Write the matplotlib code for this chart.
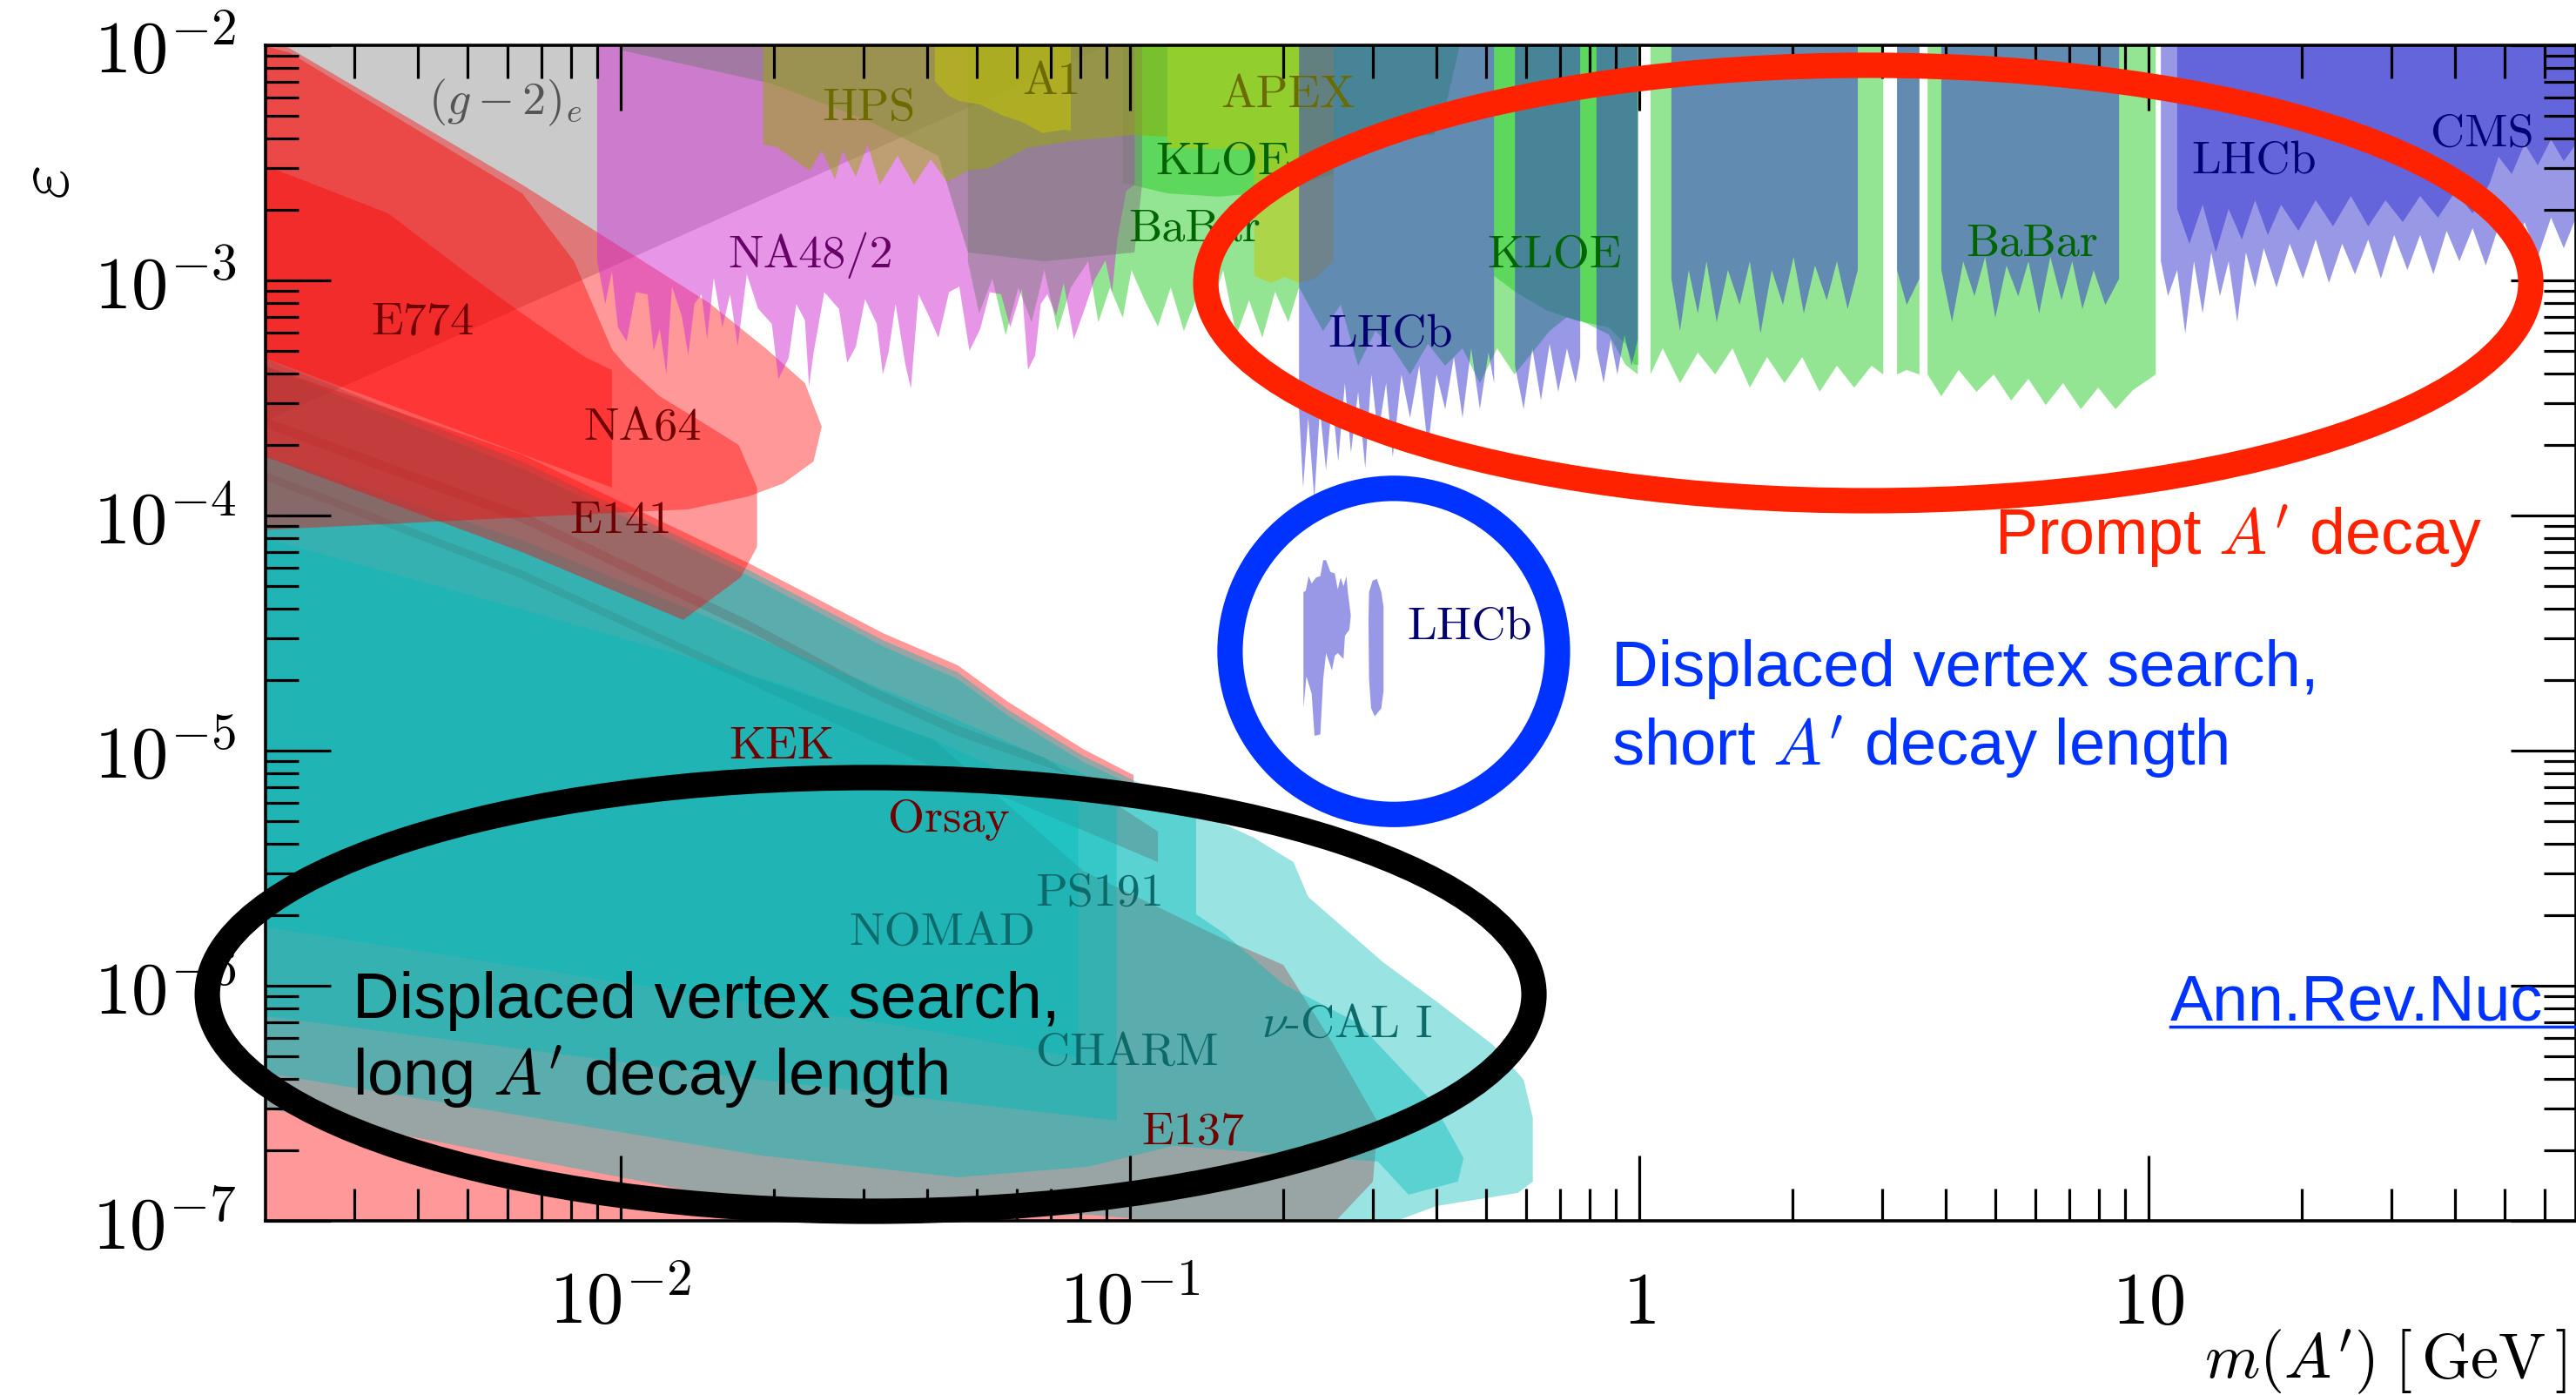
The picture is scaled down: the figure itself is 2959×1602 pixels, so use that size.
import numpy as np
import matplotlib
matplotlib.use("Agg")
import matplotlib.pyplot as plt
from matplotlib.patches import Ellipse
from matplotlib.lines import Line2D
from matplotlib.ticker import FixedLocator, FixedFormatter, NullFormatter, LogLocator

plt.rcParams["mathtext.fontset"] = "cm"

# ---------------- data (log10 of m/GeV, log10 of epsilon) ----------------
LOGM_LIM = (-2.697, 1.839)
LOGEPS_LIM = (-7.0, -2.0)

X_MAJOR = [1e-2, 1e-1, 1.0, 10.0]
X_LABELS = [r"$10^{-2}$", r"$10^{-1}$", r"$1$", r"$10$"]
Y_MAJOR = [1e-7, 1e-6, 1e-5, 1e-4, 1e-3, 1e-2]
Y_LABELS = [r"$10^{-7}$", r"$10^{-6}$", r"$10^{-5}$", r"$10^{-4}$", r"$10^{-3}$", r"$10^{-2}$"]

GM2E = [(-2.75, -1.9), (-0.94, -1.9), (-2.75, -3.65)]
GREY_UPPER = [(-1.997, -1.9), (-1.997, -2.022), (-1.703, -2.163), (-1.509, -2.326), (-1.376, -2.470),
              (-1.318, -2.881), (-1.168, -2.919), (-0.991, -2.881), (-0.976, -2.593), (-0.976, -1.9)]

E137 = [(-2.75, -3.770), (-2.193, -4.233), (-1.747, -4.678), (-1.386, -4.952), (-1.092, -5.511),
        (-0.817, -5.800), (-0.699, -5.911), (-0.602, -6.244), (-0.513, -6.581), (-0.523, -6.833),
        (-0.602, -7.015), (-0.62, -7.1), (-2.75, -7.1)]
KEK = [(-2.75, -3.326), (-2.193, -3.741), (-1.747, -4.204), (-1.485, -4.500), (-1.338, -4.637),
       (-1.239, -4.793), (-1.092, -4.993), (-0.993, -5.104), (-0.993, -5.196), (-1.168, -5.067),
       (-1.338, -4.937), (-1.509, -4.770), (-1.747, -4.493), (-2.193, -4.030), (-2.75, -3.585)]
ORSAY = [(-2.75, -3.541), (-2.193, -3.985), (-1.747, -4.448), (-1.509, -4.726), (-1.338, -4.893),
         (-1.168, -5.030), (-0.945, -5.344), (-0.945, -5.474), (-1.168, -5.270), (-1.509, -4.956),
         (-1.747, -4.715), (-2.193, -4.270), (-2.75, -3.807)]

NUCAL = [(-2.75, -3.289), (-2.193, -3.770), (-1.747, -4.233), (-1.485, -4.530), (-1.338, -4.667),
         (-1.239, -4.826), (-1.092, -5.022), (-0.993, -5.126), (-0.870, -5.259), (-0.757, -5.370),
         (-0.679, -5.474), (-0.650, -5.622), (-0.503, -5.900), (-0.398, -6.067), (-0.287, -6.252),
         (-0.227, -6.400), (-0.209, -6.563), (-0.209, -6.833), (-0.238, -6.881), (-0.398, -6.937),
         (-0.602, -7.1), (-0.928, -7.1), (-0.945, -7.0), (-1.082, -6.974), (-1.479, -6.993),
         (-1.725, -6.930), (-2.75, -6.500)]
CHARM = [(-2.75, -3.319), (-2.193, -3.800), (-1.747, -4.259), (-1.485, -4.556), (-1.338, -4.696),
         (-1.239, -4.852), (-1.092, -5.048), (-0.993, -5.148), (-0.870, -5.289), (-0.870, -5.696),
         (-0.817, -5.774), (-0.699, -5.993), (-0.552, -6.159), (-0.405, -6.496), (-0.345, -6.733),
         (-0.356, -6.833), (-0.453, -6.889), (-0.513, -6.748), (-0.915, -6.681), (-1.082, -6.770),
         (-1.338, -6.815), (-1.725, -6.722), (-2.75, -6.352)]
PS191 = [(-2.75, -3.707), (-2.193, -4.104), (-1.680, -4.567), (-1.386, -4.826), (-1.168, -5.030),
         (-1.026, -5.159), (-1.026, -6.574), (-1.725, -6.400), (-2.75, -6.115)]
NOMAD = [(-2.75, -4.067), (-2.193, -4.400), (-1.680, -4.719), (-1.386, -4.952), (-1.101, -5.233),
         (-1.101, -6.307), (-1.398, -6.189), (-2.75, -5.733)]

E141 = [(-2.75, -1.974), (-2.651, -2.030), (-2.193, -2.630), (-2.091, -2.919), (-2.017, -3.293),
        (-1.988, -3.367), (-1.923, -3.493), (-1.850, -3.589), (-1.768, -3.700), (-1.732, -3.881),
        (-1.732, -4.133), (-1.764, -4.263), (-1.877, -4.444), (-2.193, -4.156), (-2.75, -3.707)]
E774 = [(-2.75, -2.467), (-2.456, -2.715), (-2.292, -2.985), (-2.193, -3.141), (-2.070, -3.326),
        (-2.017, -3.381), (-2.017, -3.881), (-2.75, -3.289)]
NA64 = [(-2.75, -1.92), (-2.651, -2.011), (-2.193, -2.593), (-1.826, -3.096), (-1.715, -3.289),
        (-1.638, -3.437), (-1.605, -3.622), (-1.621, -3.770), (-1.680, -3.863), (-1.749, -3.919),
        (-1.868, -3.974), (-1.938, -3.981), (-2.75, -4.067)]

BABAR = [(-1.318, -1.9), (-1.318, -2.919), (-1.296, -3.141), (-1.270, -2.993), (-1.244, -3.233),
         (-1.219, -3.030), (-1.193, -3.178), (-1.168, -2.956), (-1.142, -3.215), (-1.116, -3.030),
         (-1.082, -2.919), (-1.062, -3.178), (-1.039, -3.030), (-1.014, -3.159), (-0.997, -2.956),
         (-0.971, -3.085), (-0.945, -3.196), (-0.920, -3.030), (-0.894, -3.215), (-0.868, -3.067),
         (-0.843, -3.141), (-0.817, -2.956), (-0.791, -3.233), (-0.766, -3.085), (-0.740, -3.244),
         (-0.715, -3.048), (-0.689, -3.178), (-0.668, -3.030), (-0.621, -3.215), (-0.586, -3.104),
         (-0.552, -3.363), (-0.518, -3.215), (-0.484, -3.289), (-0.450, -3.400), (-0.415, -3.270),
         (-0.381, -3.363), (-0.347, -3.289), (-0.313, -3.437), (-0.279, -3.289), (-0.245, -3.400),
         (-0.210, -3.307), (-0.176, -3.215), (-0.142, -3.156), (-0.108, -3.178), (-0.060, -3.230),
         (-0.027, -3.359), (-0.003, -3.400), (-0.003, -1.9), (0.022, -1.9), (0.022, -3.400),
         (0.046, -3.289), (0.080, -3.437), (0.115, -3.307), (0.149, -3.400), (0.183, -3.289),
         (0.217, -3.456), (0.251, -3.326), (0.285, -3.437), (0.320, -3.326), (0.354, -3.474),
         (0.388, -3.363), (0.422, -3.456), (0.456, -3.363), (0.479, -3.400), (0.479, -1.9),
         (0.506, -1.9), (0.506, -3.400), (0.525, -3.381), (0.550, -3.400), (0.550, -1.9),
         (0.566, -1.9), (0.566, -3.400), (0.593, -3.493), (0.627, -3.381), (0.662, -3.474),
         (0.696, -3.400), (0.730, -3.511), (0.764, -3.419), (0.798, -3.530), (0.832, -3.437),
         (0.867, -3.548), (0.901, -3.456), (0.935, -3.548), (0.969, -3.467), (1.014, -3.400),
         (1.014, -1.9)]
KLOE_PHI = [(-1.014, -1.9), (-1.014, -2.585), (-0.926, -2.630), (-0.826, -2.644), (-0.756, -2.630),
            (-0.689, -2.604), (-0.600, -2.548), (-0.600, -1.9)]
KLOE_EE_LOW = [(-0.600, -1.9), (-0.600, -2.407), (-0.550, -2.393), (-0.403, -2.381), (-0.379, -2.248),
               (-0.354, -2.015), (-0.354, -1.9)]
KLOE_EE_HIGH = [(-0.285, -1.9), (-0.285, -2.981), (-0.244, -3.048), (-0.183, -3.126), (-0.125, -3.170),
                (-0.060, -3.200), (-0.027, -3.270), (-0.010, -3.359), (-0.002, -3.359), (-0.002, -1.9)]

NA48 = [(-2.046, -1.9), (-2.046, -2.915), (-2.030, -3.10), (-2.017, -2.963), (-2.005, -3.20),
        (-1.988, -3.259), (-1.970, -3.05), (-1.947, -3.059), (-1.935, -3.30), (-1.923, -3.207),
        (-1.910, -3.40), (-1.899, -3.026), (-1.880, -3.15), (-1.867, -3.319), (-1.855, -3.10),
        (-1.841, -3.059), (-1.830, -3.25), (-1.817, -2.989), (-1.800, -3.20), (-1.785, -3.059),
        (-1.770, -3.28), (-1.752, -2.974), (-1.730, -3.12), (-1.703, -3.185), (-1.690, -3.42),
        (-1.670, -3.330), (-1.655, -3.10), (-1.638, -3.170), (-1.630, -3.45), (-1.621, -3.307),
        (-1.600, -3.05), (-1.571, -3.122), (-1.555, -3.35), (-1.538, -3.281), (-1.520, -3.08),
        (-1.497, -3.185), (-1.485, -3.40), (-1.474, -3.307), (-1.460, -3.10), (-1.441, -3.356),
        (-1.430, -3.46), (-1.415, -3.059), (-1.395, -3.15), (-1.376, -3.244), (-1.355, -3.05),
        (-1.335, -3.026), (-1.315, -3.30), (-1.294, -3.207), (-1.275, -3.05), (-1.253, -3.059),
        (-1.235, -3.20), (-1.212, -3.037), (-1.200, -3.38), (-1.186, -3.319), (-1.175, -3.10),
        (-1.162, -3.059), (-1.145, -3.15), (-1.130, -3.011), (-1.110, -3.25), (-1.089, -3.122),
        (-1.070, -3.00), (-1.048, -2.915), (-1.035, -3.05), (-1.024, -2.815), (-1.007, -2.619),
        (-0.991, -2.593), (-0.991, -1.9)]

HPS = [(-1.720, -1.9), (-1.720, -2.422), (-1.694, -2.433), (-1.629, -2.533), (-1.605, -2.448),
       (-1.579, -2.570), (-1.564, -2.448), (-1.538, -2.559), (-1.515, -2.422), (-1.491, -2.593),
       (-1.456, -2.470), (-1.424, -2.593), (-1.391, -2.485), (-1.359, -2.581), (-1.318, -2.533),
       (-1.277, -2.522), (-1.202, -2.437), (-1.116, -2.407), (-1.048, -2.393), (-0.997, -2.381),
       (-0.926, -2.389), (-0.926, -1.9)]
A1 = [(-1.383, -1.9), (-1.383, -2.152), (-1.356, -2.215), (-1.335, -2.237), (-1.294, -2.252),
      (-1.253, -2.296), (-1.212, -2.326), (-1.171, -2.374), (-1.130, -2.359), (-1.116, -2.363),
      (-1.116, -1.9)]
APEX = [(-0.926, -1.9), (-0.926, -2.437), (-0.840, -2.440), (-0.756, -2.444), (-0.756, -2.981),
        (-0.723, -3.011), (-0.697, -2.985), (-0.668, -3.011), (-0.638, -2.993), (-0.600, -2.919),
        (-0.600, -1.9)]

LHCB_PROMPT = [(-0.668, -1.9),
    (-0.668, -3.548), (-0.660, -3.881), (-0.650, -3.585), (-0.638, -3.930), (-0.627, -3.548),
    (-0.615, -3.807), (-0.603, -3.511), (-0.591, -3.770), (-0.578, -3.437), (-0.566, -3.733),
    (-0.552, -3.474), (-0.538, -3.800), (-0.526, -3.400), (-0.513, -3.659), (-0.497, -3.437),
    (-0.484, -3.752), (-0.467, -3.400), (-0.450, -3.585), (-0.432, -3.363), (-0.415, -3.715),
    (-0.398, -3.400), (-0.381, -3.548), (-0.364, -3.326), (-0.347, -3.585), (-0.330, -3.289),
    (-0.313, -3.548), (-0.296, -3.307), (-0.285, -3.437), (-0.285, -1.9), (-0.244, -1.9),
    (-0.244, -3.363), (-0.227, -3.548), (-0.210, -3.289), (-0.193, -3.511), (-0.176, -3.270),
    (-0.159, -3.474), (-0.142, -3.289), (-0.125, -3.437), (-0.116, -3.326), (-0.116, -1.9),
    (-0.084, -1.9),
    (-0.084, -3.289), (-0.070, -3.437), (-0.056, -3.252), (-0.043, -3.400), (-0.029, -3.233),
    (-0.015, -3.363), (-0.003, -3.252), (-0.003, -1.9), (0.063, -1.9),
    (0.063, -2.993), (0.080, -3.215), (0.097, -2.956), (0.115, -3.141), (0.132, -2.919),
    (0.152, -3.178), (0.174, -2.956), (0.197, -3.104), (0.217, -2.919), (0.238, -3.226),
    (0.260, -2.956), (0.282, -3.104), (0.303, -2.900), (0.323, -3.141), (0.345, -2.937),
    (0.368, -3.085), (0.388, -2.919), (0.409, -3.122), (0.429, -2.956), (0.429, -1.9),
    (0.506, -1.9),
    (0.506, -2.956), (0.525, -3.104), (0.550, -2.993), (0.550, -1.9), (0.593, -1.9),
    (0.593, -2.956), (0.614, -3.178), (0.636, -2.919), (0.658, -3.067), (0.679, -2.900),
    (0.699, -3.159), (0.721, -2.937), (0.744, -3.067), (0.764, -2.919), (0.785, -3.141),
    (0.807, -2.900), (0.829, -3.085), (0.850, -2.919), (0.870, -3.122), (0.892, -2.956),
    (0.915, -3.104), (0.942, -2.993), (0.942, -1.9), (1.024, -1.9),
    (1.024, -2.919), (1.038, -3.067), (1.056, -2.956), (1.072, -3.226), (1.089, -2.919),
    (1.106, -3.141), (1.123, -2.881), (1.140, -3.067), (1.157, -2.919), (1.174, -3.178),
    (1.191, -2.881), (1.209, -3.030), (1.226, -2.863), (1.251, -3.030), (1.277, -2.844),
    (1.303, -2.993), (1.328, -2.826), (1.354, -3.011), (1.380, -2.844), (1.405, -2.974),
    (1.431, -2.826), (1.456, -2.993), (1.482, -2.807), (1.508, -2.956), (1.533, -2.807),
    (1.559, -2.974), (1.585, -2.789), (1.610, -2.919), (1.636, -2.778), (1.662, -2.937),
    (1.687, -2.770), (1.713, -2.881), (1.738, -2.752), (1.764, -2.900), (1.790, -2.733),
    (1.815, -2.863), (1.839, -2.733), (1.892, -2.733), (1.892, -1.9)]
CMS = [(1.056, -1.9), (1.056, -2.696), (1.080, -2.844), (1.106, -2.678), (1.132, -2.881),
       (1.157, -2.696), (1.183, -2.826), (1.209, -2.659), (1.234, -2.807), (1.260, -2.678),
       (1.294, -2.789), (1.328, -2.659), (1.362, -2.770), (1.397, -2.641), (1.431, -2.770),
       (1.465, -2.659), (1.499, -2.752), (1.533, -2.641), (1.568, -2.733), (1.602, -2.622),
       (1.636, -2.715), (1.670, -2.585), (1.687, -2.474), (1.713, -2.548), (1.738, -2.419),
       (1.764, -2.511), (1.790, -2.400), (1.815, -2.493), (1.839, -2.419), (1.892, -2.419),
       (1.892, -1.9)]

LHCB_DISPLACED_1 = [(-0.6593, -4.820), (-0.6535, -4.684), (-0.6432, -4.758), (-0.6376, -4.937),
    (-0.6262, -4.931), (-0.6205, -4.696), (-0.6149, -4.585), (-0.6034, -4.659), (-0.5978, -4.597),
    (-0.5920, -4.585), (-0.5807, -4.610), (-0.5778, -4.511), (-0.5692, -4.486), (-0.5663, -4.425),
    (-0.5721, -4.326), (-0.5749, -4.258), (-0.5807, -4.301), (-0.5863, -4.264), (-0.5920, -4.314),
    (-0.5978, -4.246), (-0.6063, -4.240), (-0.6149, -4.190), (-0.6205, -4.190), (-0.6262, -4.258),
    (-0.6347, -4.264), (-0.6432, -4.289), (-0.6491, -4.258), (-0.6547, -4.320), (-0.6593, -4.326)]
LHCB_DISPLACED_2 = [(-0.5305, -4.326), (-0.5236, -4.277), (-0.5151, -4.270), (-0.5065, -4.326),
    (-0.5021, -4.388), (-0.5021, -4.746), (-0.5065, -4.820), (-0.5192, -4.854), (-0.5265, -4.820),
    (-0.5305, -4.696), (-0.5316, -4.449)]

LABEL_TEXT = [r"$(g-2)_e$", "E774", "NA64", "E141", "KEK", "Orsay", "NOMAD", "PS191", "CHARM",
              r"$\nu$-CAL I", "E137", "NA48/2", "HPS", "A1", "APEX", "KLOE", "BaBar", "KLOE",
              "LHCb", "BaBar", "LHCb", "CMS", "LHCb"]
LABEL_LOGM = [-2.227, -2.388, -1.957, -2.000, -1.684, -1.356, -1.369, -1.060, -1.005, -0.573,
              -0.877, -1.626, -1.513, -1.154, -0.689, -0.817, -0.874, -0.166, -0.489, 0.771,
              1.207, 1.655, -0.333]
LABEL_LOGEPS = [-2.296, -3.226, -3.678, -4.074, -5.033, -5.341, -5.826, -5.659, -6.337, -6.219,
                -6.674, -2.944, -2.319, -2.207, -2.263, -2.548, -2.833, -2.944, -3.281, -2.893,
                -2.544, -2.430, -4.526]
LABEL_GROUP = ["grey", "red", "red", "red", "red", "red", "teal", "teal", "teal", "teal", "red",
               "purple", "olive", "olive", "olive", "green", "green", "green", "navy", "green",
               "navy", "navy", "navy"]

# ---------------- styles ----------------
C_GREY, C_GREY2 = (0.59, 0.59, 0.59), (0.47, 0.47, 0.47)
C_RED = (1.0, 0.0, 0.0)
C_CYAN = (0.0, 0.725, 0.725)
C_GREEN = (0.157, 0.80, 0.157)
C_MAG = (0.82, 0.176, 0.82)
C_HPS = (0.59, 0.667, 0.0)
C_YEL = (0.78, 0.78, 0.0)
C_BLUE = (0.196, 0.196, 0.82)
TXT = {"grey": "#555555", "red": "#700000", "teal": "#0d6a6a", "purple": "#660066",
       "olive": "#6b6b00", "green": "#006400", "navy": "#000070"}

fig = plt.figure(figsize=(29.59, 16.02), dpi=100)
ax = fig.add_axes([305 / 2959, 1 - 1402 / 1602, 2654 / 2959, 1350 / 1602])
ax.set_xscale("log")
ax.set_yscale("log")
ax.set_xlim(10 ** LOGM_LIM[0], 10 ** LOGM_LIM[1])
ax.set_ylim(10 ** LOGEPS_LIM[0], 10 ** LOGEPS_LIM[1])


def region(pts, color, alpha, z=1):
    a = np.array(pts, dtype=float)
    ax.fill(10 ** a[:, 0], 10 ** a[:, 1], facecolor=color, alpha=alpha, lw=0, zorder=z)


region(GM2E, C_GREY, 0.5)
for r in (E137, KEK, ORSAY):
    region(r, C_RED, 0.4)
for r in (NUCAL, CHARM, PS191, NOMAD):
    region(r, C_CYAN, 0.4)
for r in (E141, E774, NA64):
    region(r, C_RED, 0.4)
region(BABAR, C_GREEN, 0.5)
for r in (KLOE_PHI, KLOE_EE_LOW, KLOE_EE_HIGH):
    region(r, C_GREEN, 0.5)
region(NA48, C_MAG, 0.5)
region(GREY_UPPER, C_GREY2, 0.5)
region(HPS, C_HPS, 0.5)
region(A1, C_YEL, 0.5)
region(APEX, C_YEL, 0.5)
region(LHCB_PROMPT, C_BLUE, 0.5)
region(CMS, C_BLUE, 0.5)
region(LHCB_DISPLACED_1, C_BLUE, 0.5)
region(LHCB_DISPLACED_2, C_BLUE, 0.5)

for t, lm, le, g in zip(LABEL_TEXT, LABEL_LOGM, LABEL_LOGEPS, LABEL_GROUP):
    ax.text(10 ** lm, 10 ** le, t, color=TXT[g], fontsize=39, family="cmr10",
            ha="center", va="baseline", zorder=6)

# ---------------- axes styling ----------------
ax.xaxis.set_major_locator(FixedLocator(X_MAJOR))
ax.xaxis.set_major_formatter(FixedFormatter(X_LABELS))
ax.yaxis.set_major_locator(FixedLocator(Y_MAJOR))
ax.yaxis.set_major_formatter(FixedFormatter(Y_LABELS))
for axis in (ax.xaxis, ax.yaxis):
    axis.set_minor_locator(LogLocator(base=10, subs=np.arange(2, 10), numticks=100))
    axis.set_minor_formatter(NullFormatter())
ax.tick_params(which="both", direction="in", top=True, right=True, width=2.3, color="black")
ax.tick_params(which="major", length=54, labelsize=61)
ax.tick_params(which="minor", length=27)
ax.tick_params(axis="y", which="major", pad=24)
ax.tick_params(axis="x", which="major", pad=38)
for s in ax.spines.values():
    s.set_linewidth(2.6)
    s.set_zorder(7)

fig.text(54 / 2959, 1 - 210 / 1602, r"$\varepsilon$", rotation=90, fontsize=62,
         ha="center", va="center")
fig.text(2948 / 2959, 1 - 1582 / 1602, r"$m(A^{\prime})\;[\,\mathrm{GeV}\,]$",
         ha="right", va="baseline", fontsize=52)

# ---------------- annotations ----------------
ax.add_patch(Ellipse((0.6937, 0.7978), 0.5735, 0.3704, transform=ax.transAxes, fill=False,
                     ec="#ff2200", lw=21, zorder=10, clip_on=False))
ax.add_patch(Ellipse((0.4883, 0.4844), 0.1417, 0.2774, transform=ax.transAxes, fill=False,
                     ec="#0033ff", lw=21, zorder=10, clip_on=False))
ax.add_patch(Ellipse((0.2619, 0.1926), 0.5742, 0.3689, transform=ax.transAxes, fill=False,
                     ec="black", lw=21, zorder=10, clip_on=False))

SANS = ["Liberation Sans", "DejaVu Sans"]
ax.text(0.7483, 0.5667, r"Prompt $A'$ decay", transform=ax.transAxes, color="#ff2200",
        fontsize=53, family=SANS, ha="left", va="baseline", zorder=11)
ax.text(0.5825, 0.4548, "Displaced vertex search,", transform=ax.transAxes, color="#0033ff",
        fontsize=53.5, family=SANS, ha="left", va="baseline", zorder=11)
ax.text(0.5825, 0.3874, r"short $A'$ decay length", transform=ax.transAxes, color="#0033ff",
        fontsize=53.5, family=SANS, ha="left", va="baseline", zorder=11)
ax.text(0.0377, 0.1726, "Displaced vertex search,", transform=ax.transAxes, color="black",
        fontsize=53.5, family=SANS, ha="left", va="baseline", zorder=11)
ax.text(0.0377, 0.1067, r"long $A'$ decay length", transform=ax.transAxes, color="black",
        fontsize=53.5, family=SANS, ha="left", va="baseline", zorder=11)
ax.text(0.8244, 0.1711, "Ann.Rev.Nuc", transform=ax.transAxes, color="#0033ff",
        fontsize=53, family=SANS, ha="left", va="baseline", zorder=11)
ax.add_line(Line2D([0.8244, 1.0], [0.1655, 0.1655], transform=ax.transAxes, color="#0033ff",
                   lw=2.5, zorder=11, clip_on=False))

fig.savefig("out.png", dpi=100)
